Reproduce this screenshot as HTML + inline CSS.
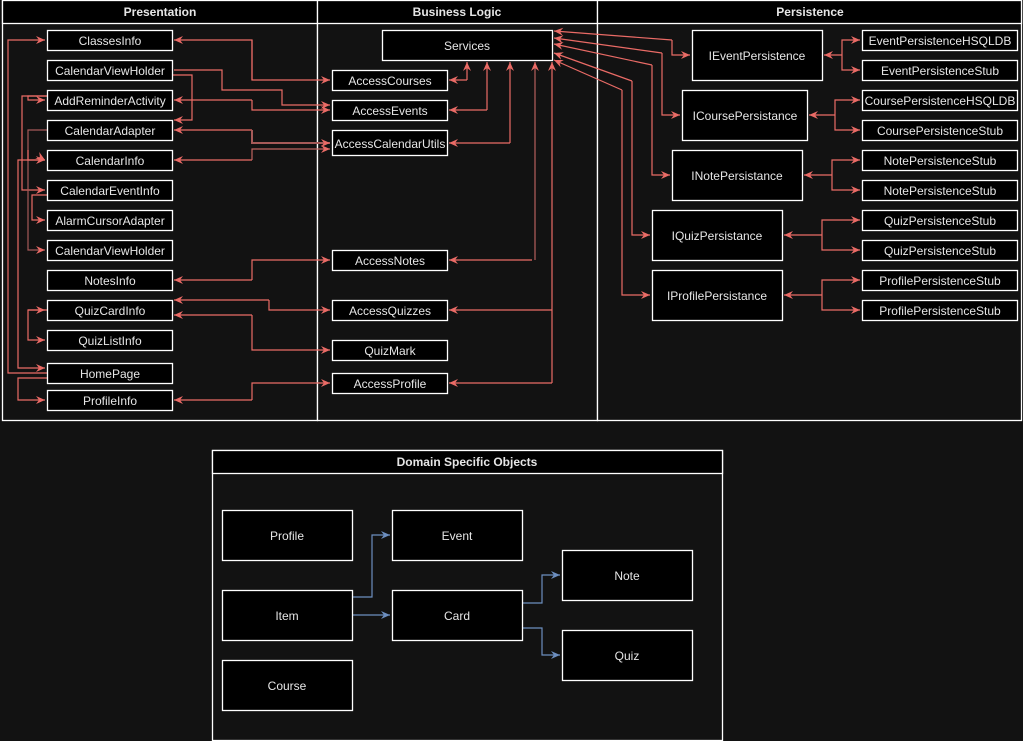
<!DOCTYPE html>
<html><head><meta charset="utf-8"><style>
html,body{margin:0;padding:0;background:#121212;}
svg{display:block;}
text{font-family:"Liberation Sans",sans-serif;fill:#e6e6e6;font-size:12px;}
</style></head><body>
<svg width="1023" height="741" viewBox="0 0 1023 741" xmlns="http://www.w3.org/2000/svg">
<defs>
<marker id="r" markerWidth="10" markerHeight="10" refX="9" refY="5" orient="auto" markerUnits="userSpaceOnUse"><path d="M0,1 L9,5 L0,9 L3,5 z" fill="#ea6b66"/></marker>
<marker id="b" markerWidth="10" markerHeight="10" refX="9" refY="5" orient="auto" markerUnits="userSpaceOnUse"><path d="M0,1 L9,5 L0,9 L3,5 z" fill="#6c8ebf"/></marker>
</defs>
<rect width="1023" height="741" fill="#121212"/>
<!-- pools -->
<g fill="#121212" stroke="#fff" stroke-width="1.3">
<rect x="2.5" y="0.5" width="315" height="420"/>
<rect x="317.5" y="0.5" width="280" height="420"/>
<rect x="597.5" y="0.5" width="424" height="420"/>
<rect x="212.5" y="450.5" width="510" height="290"/>
</g>
<g fill="#000" stroke="#fff" stroke-width="1.3">
<rect x="2.5" y="0.5" width="315" height="23"/>
<rect x="317.5" y="0.5" width="280" height="23"/>
<rect x="597.5" y="0.5" width="424" height="23"/>
<rect x="212.5" y="450.5" width="510" height="23"/>
</g>
<g text-anchor="middle" font-weight="bold">
<text x="160" y="16" style="font-weight:bold">Presentation</text>
<text x="457" y="16" style="font-weight:bold">Business Logic</text>
<text x="810" y="16" style="font-weight:bold">Persistence</text>
<text x="467" y="466" style="font-weight:bold">Domain Specific Objects</text>
</g>

<!-- edges red -->
<g fill="none" stroke="#ea6b66" stroke-width="1.2">
<!-- left internal -->
<polyline points="47,373 8,373 8,40 45,40" marker-end="url(#r)"/>
<polyline points="47,96 22,96 22,190 45,190" marker-end="url(#r)"/>
<polyline points="47,96 28,96 28,100 45,100" marker-end="url(#r)"/>
<polyline points="47,130 28,130 28,250 45,250" marker-end="url(#r)" stroke="#a65a58"/>
<polyline points="28,150 45,160" marker-end="url(#r)" stroke="none"/>
<polyline points="28,150 28,160 45,160" marker-end="url(#r)"/>
<polyline points="47,195 32,195 32,220 45,220" marker-end="url(#r)"/>
<polyline points="45,160 18,160 18,368 45,368" marker-end="url(#r)"/>
<polyline points="47,310 28,310 28,340 45,340" marker-end="url(#r)"/>
<polyline points="28,310 45,310" marker-end="url(#r)"/>
<polyline points="47,378 18,378 18,400 45,400" marker-end="url(#r)"/>
<polyline points="172,75 192,75 192,120 174,120" marker-end="url(#r)"/>
<!-- left to middle -->
<polyline points="252,40 252,80 330,80" marker-end="url(#r)"/>
<polyline points="252,80 252,40 174,40" marker-end="url(#r)"/>
<polyline points="174,70 222,70 222,90 282,90 282,105 330,105" marker-end="url(#r)"/>
<polyline points="252,100 174,100" marker-end="url(#r)"/>
<polyline points="252,100 252,110 330,110" marker-end="url(#r)"/>
<polyline points="252,130 174,130" marker-end="url(#r)"/>
<polyline points="252,130 252,143 330,143" marker-end="url(#r)" stroke="#a65a58" stroke-width="2"/>
<polyline points="252,160 174,160" marker-end="url(#r)"/>
<polyline points="252,160 252,149 330,149" marker-end="url(#r)" stroke="#c06460"/>
<polyline points="252,280 174,280" marker-end="url(#r)"/>
<polyline points="252,280 252,260 330,260" marker-end="url(#r)"/>
<polyline points="269,300 174,300" marker-end="url(#r)"/>
<polyline points="269,300 269,310 330,310" marker-end="url(#r)"/>
<polyline points="252,315 174,315" marker-end="url(#r)"/>
<polyline points="252,315 252,350 330,350" marker-end="url(#r)"/>
<polyline points="252,400 174,400" marker-end="url(#r)"/>
<polyline points="252,400 252,383 330,383" marker-end="url(#r)"/>
<!-- middle to services -->
<polyline points="467,80 449,80" marker-end="url(#r)"/>
<polyline points="467,80 467,62" marker-end="url(#r)"/>
<polyline points="487,110 449,110" marker-end="url(#r)"/>
<polyline points="487,110 487,62" marker-end="url(#r)"/>
<polyline points="510,143 449,143" marker-end="url(#r)"/>
<polyline points="510,143 510,62" marker-end="url(#r)"/>
<polyline points="532,260 449,260" marker-end="url(#r)"/>
<polyline points="535,260 535,62" marker-end="url(#r)" stroke="#b5605d"/>
<polyline points="552,310 449,310" marker-end="url(#r)"/>
<polyline points="552,383 449,383" marker-end="url(#r)"/>
<polyline points="552,383 552,62" marker-end="url(#r)"/>
<!-- services to persistence -->
<polyline points="672,40 554,31" marker-end="url(#r)"/>
<polyline points="672,40 672,55 690,55" marker-end="url(#r)"/>
<polyline points="662,53 554,38" marker-end="url(#r)"/>
<polyline points="662,53 662,115 680,115" marker-end="url(#r)"/>
<polyline points="652,65 554,44" marker-end="url(#r)"/>
<polyline points="652,65 652,175 670,175" marker-end="url(#r)"/>
<polyline points="632,81 554,53" marker-end="url(#r)"/>
<polyline points="632,81 632,235 650,235" marker-end="url(#r)"/>
<polyline points="622,90 554,60" marker-end="url(#r)"/>
<polyline points="622,90 622,295 650,295" marker-end="url(#r)"/>
<!-- interface to stubs -->
<polyline points="842,55 824,55" marker-end="url(#r)"/>
<polyline points="842,55 842,40 860,40" marker-end="url(#r)"/>
<polyline points="842,55 842,70 860,70" marker-end="url(#r)"/>
<polyline points="835,115 809,115" marker-end="url(#r)"/>
<polyline points="835,115 835,100 860,100" marker-end="url(#r)"/>
<polyline points="835,115 835,130 860,130" marker-end="url(#r)"/>
<polyline points="832,175 804,175" marker-end="url(#r)"/>
<polyline points="832,175 832,160 860,160" marker-end="url(#r)"/>
<polyline points="832,175 832,190 860,190" marker-end="url(#r)"/>
<polyline points="822,235 784,235" marker-end="url(#r)"/>
<polyline points="822,235 822,220 860,220" marker-end="url(#r)"/>
<polyline points="822,235 822,250 860,250" marker-end="url(#r)"/>
<polyline points="822,295 784,295" marker-end="url(#r)"/>
<polyline points="822,295 822,280 860,280" marker-end="url(#r)"/>
<polyline points="822,295 822,310 860,310" marker-end="url(#r)"/>
</g>
<!-- blue -->
<g fill="none" stroke="#6c8ebf" stroke-width="1.2">
<polyline points="352,597 372,597 372,535 390,535" marker-end="url(#b)"/>
<polyline points="352,615 390,615" marker-end="url(#b)"/>
<polyline points="522,603 542,603 542,575 560,575" marker-end="url(#b)"/>
<polyline points="522,628 542,628 542,655 560,655" marker-end="url(#b)"/>
</g>

<!-- boxes -->
<g fill="#000" stroke="#fff" stroke-width="1.3">
<rect x="47.5" y="30.5" width="125" height="20"/>
<rect x="47.5" y="60.5" width="125" height="20"/>
<rect x="47.5" y="90.5" width="125" height="20"/>
<rect x="47.5" y="120.5" width="125" height="20"/>
<rect x="47.5" y="150.5" width="125" height="20"/>
<rect x="47.5" y="180.5" width="125" height="20"/>
<rect x="47.5" y="210.5" width="125" height="20"/>
<rect x="47.5" y="240.5" width="125" height="20"/>
<rect x="47.5" y="270.5" width="125" height="20"/>
<rect x="47.5" y="300.5" width="125" height="20"/>
<rect x="47.5" y="330.5" width="125" height="20"/>
<rect x="47.5" y="363.5" width="125" height="20"/>
<rect x="47.5" y="390.5" width="125" height="20"/>
<rect x="382.5" y="30.5" width="170" height="30"/>
<rect x="332.5" y="70.5" width="115" height="20"/>
<rect x="332.5" y="100.5" width="115" height="20"/>
<rect x="332.5" y="130.5" width="115" height="25"/>
<rect x="332.5" y="250.5" width="115" height="20"/>
<rect x="332.5" y="300.5" width="115" height="20"/>
<rect x="332.5" y="340.5" width="115" height="20"/>
<rect x="332.5" y="373.5" width="115" height="20"/>
<rect x="692.5" y="30.5" width="130" height="50"/>
<rect x="682.5" y="90.5" width="125" height="50"/>
<rect x="672.5" y="150.5" width="130" height="50"/>
<rect x="652.5" y="210.5" width="130" height="50"/>
<rect x="652.5" y="270.5" width="130" height="50"/>
<rect x="862.5" y="30.5" width="155" height="20"/>
<rect x="862.5" y="60.5" width="155" height="20"/>
<rect x="862.5" y="90.5" width="155" height="20"/>
<rect x="862.5" y="120.5" width="155" height="20"/>
<rect x="862.5" y="150.5" width="155" height="20"/>
<rect x="862.5" y="180.5" width="155" height="20"/>
<rect x="862.5" y="210.5" width="155" height="20"/>
<rect x="862.5" y="240.5" width="155" height="20"/>
<rect x="862.5" y="270.5" width="155" height="20"/>
<rect x="862.5" y="300.5" width="155" height="20"/>
<rect x="222.5" y="510.5" width="130" height="50"/>
<rect x="392.5" y="510.5" width="130" height="50"/>
<rect x="222.5" y="590.5" width="130" height="50"/>
<rect x="392.5" y="590.5" width="130" height="50"/>
<rect x="222.5" y="660.5" width="130" height="50"/>
<rect x="562.5" y="550.5" width="130" height="50"/>
<rect x="562.5" y="630.5" width="130" height="50"/>
</g>
<g text-anchor="middle">
<text x="110" y="45">ClassesInfo</text>
<text x="110" y="75">CalendarViewHolder</text>
<text x="110" y="105">AddReminderActivity</text>
<text x="110" y="135">CalendarAdapter</text>
<text x="110" y="165">CalendarInfo</text>
<text x="110" y="195">CalendarEventInfo</text>
<text x="110" y="225">AlarmCursorAdapter</text>
<text x="110" y="255">CalendarViewHolder</text>
<text x="110" y="285">NotesInfo</text>
<text x="110" y="315">QuizCardInfo</text>
<text x="110" y="345">QuizListInfo</text>
<text x="110" y="378">HomePage</text>
<text x="110" y="405">ProfileInfo</text>
<text x="467" y="50">Services</text>
<text x="390" y="85">AccessCourses</text>
<text x="390" y="115">AccessEvents</text>
<text x="390" y="148">AccessCalendarUtils</text>
<text x="390" y="265">AccessNotes</text>
<text x="390" y="315">AccessQuizzes</text>
<text x="390" y="355">QuizMark</text>
<text x="390" y="388">AccessProfile</text>
<text x="757" y="60">IEventPersistence</text>
<text x="745" y="120">ICoursePersistance</text>
<text x="737" y="180">INotePersistance</text>
<text x="717" y="240">IQuizPersistance</text>
<text x="717" y="300">IProfilePersistance</text>
<text x="940" y="45">EventPersistenceHSQLDB</text>
<text x="940" y="75">EventPersistenceStub</text>
<text x="940" y="105">CoursePersistenceHSQLDB</text>
<text x="940" y="135">CoursePersistenceStub</text>
<text x="940" y="165">NotePersistenceStub</text>
<text x="940" y="195">NotePersistenceStub</text>
<text x="940" y="225">QuizPersistenceStub</text>
<text x="940" y="255">QuizPersistenceStub</text>
<text x="940" y="285">ProfilePersistenceStub</text>
<text x="940" y="315">ProfilePersistenceStub</text>
<text x="287" y="540">Profile</text>
<text x="457" y="540">Event</text>
<text x="287" y="620">Item</text>
<text x="457" y="620">Card</text>
<text x="287" y="690">Course</text>
<text x="627" y="580">Note</text>
<text x="627" y="660">Quiz</text>
</g>
</svg>
</body></html>
